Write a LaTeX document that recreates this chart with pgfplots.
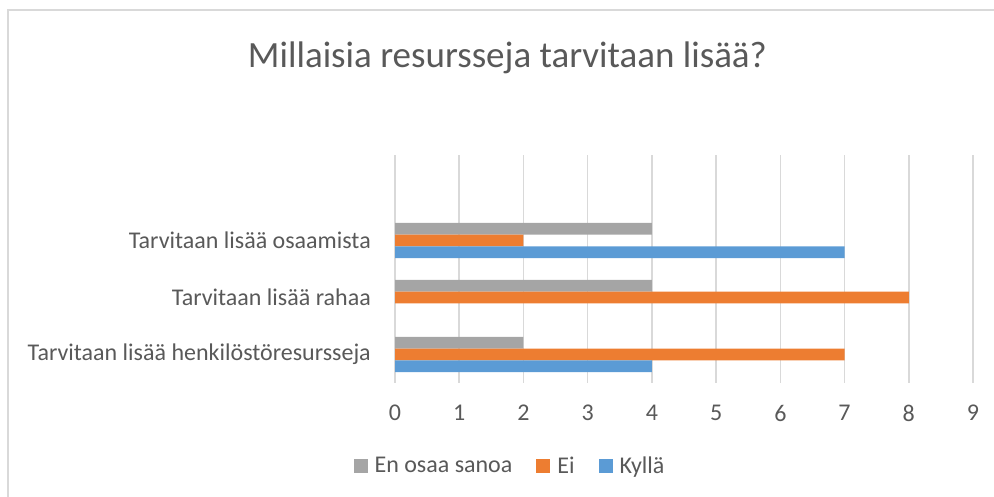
\documentclass[border=0pt]{standalone}
\usepackage{pgfplots}
\pgfplotsset{compat=1.18}
\usepackage{fontspec}
\setmainfont{Carlito}
\definecolor{txt}{HTML}{595959}
\definecolor{gridc}{HTML}{D9D9D9}
\definecolor{cgray}{HTML}{A5A5A5}
\definecolor{corange}{HTML}{ED7D31}
\definecolor{cblue}{HTML}{5B9BD5}
\begin{document}
\begin{tikzpicture}
\path[use as bounding box] (0bp,0bp) rectangle (994bp,497bp);
\draw[gridc, line width=1.5bp] (8bp,0bp) -- (8bp,487bp) -- (994bp,487bp);
\node[txt, font=\fontsize{37bp}{44bp}\selectfont, inner sep=0pt] at (507.5bp,439bp) {Millaisia resursseja tarvitaan lisää?};
\begin{axis}[
  at={(395bp,114bp)}, anchor=south west, scale only axis,
  width=578bp, height=228bp,
  xmin=0, xmax=9, ymin=-0.5, ymax=3.5,
  xbar, bar width=11.7bp,
  xtick={0,1,2,3,4,5,6,7,8,9},
  ytick={0,1,2},
  yticklabels={Tarvitaan lisää henkilöstöresursseja, Tarvitaan lisää rahaa, Tarvitaan lisää osaamista},
  axis line style={draw=none},
  major tick length=0pt,
  xmajorgrids, grid style={gridc, line width=1.5bp},
  /pgf/number format/assume math mode=true,
  tick label style={font=\fontsize{24bp}{28bp}\selectfont, text=txt},
  xticklabel style={anchor=center, yshift=-30bp},
  yticklabel style={anchor=east, inner sep=0pt, xshift=-24bp},
  legend columns=3,
  legend image code/.code={\fill[#1] (0bp,-7bp) rectangle (14bp,7bp); \path (19bp,0bp);},
  legend style={at={(rel axis cs:0.199,-0.364)}, anchor=center, draw=none,
    font=\fontsize{24bp}{28bp}\selectfont, text=txt,
    /tikz/every even column/.append style={column sep=22bp}},
]
\addplot[draw=none, fill=cgray, bar shift=11.7bp] coordinates {(2,0) (4,1) (4,2)};
\addlegendentry{En osaa sanoa}
\addplot[draw=none, fill=corange, bar shift=0bp] coordinates {(7,0) (8,1) (2,2)};
\addlegendentry{Ei}
\addplot[draw=none, fill=cblue, bar shift=-11.7bp] coordinates {(4,0) (7,2)};
\addlegendentry{Kyllä}
\end{axis}
\end{tikzpicture}
\end{document}
